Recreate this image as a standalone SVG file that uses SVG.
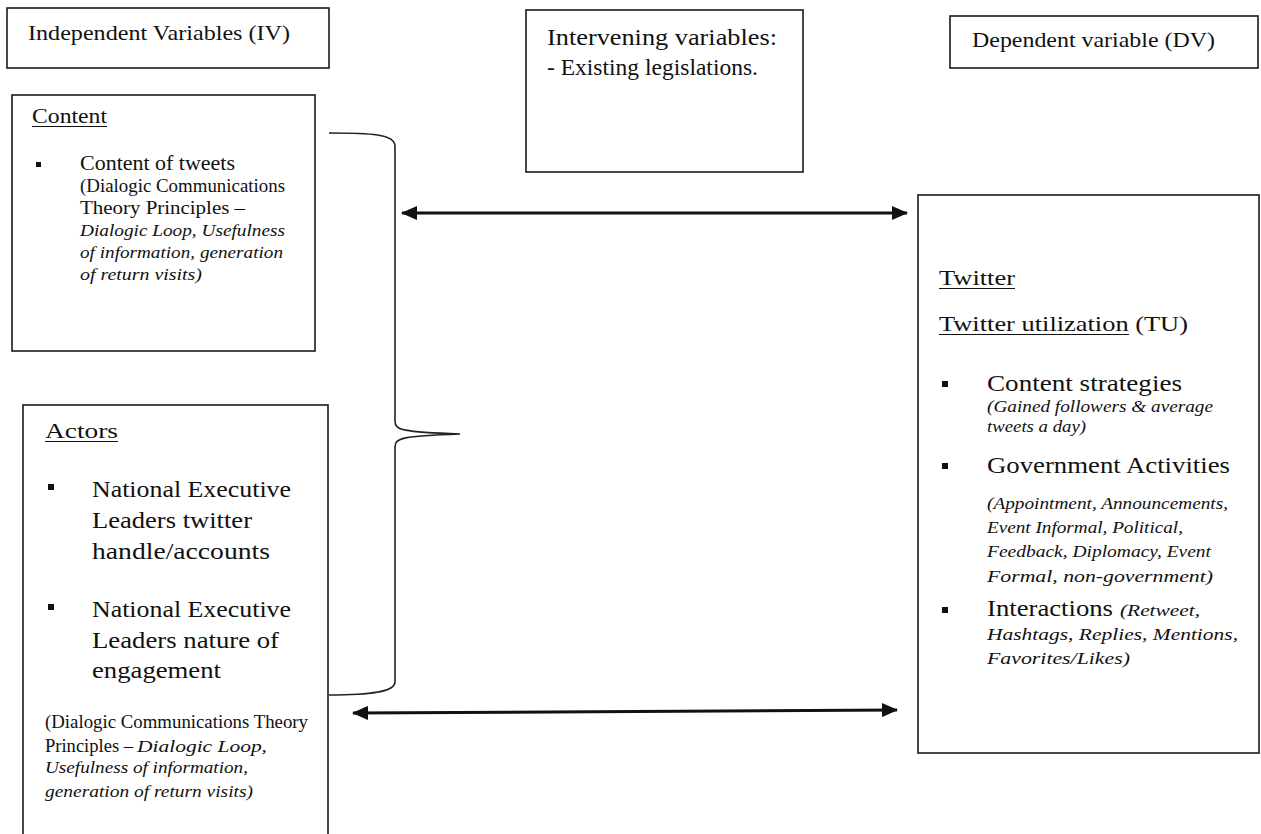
<svg xmlns="http://www.w3.org/2000/svg" width="1261" height="834" viewBox="0 0 1261 834">
<style>
.box{fill:#fff;stroke:#1a1a1a;stroke-width:1.6}
.t{font-family:"Liberation Serif","Times New Roman",serif;fill:#111}
.i{font-style:italic}
.ul{stroke:#111;stroke-width:1.2}
.blt{fill:#111}
.conn{fill:none;stroke:#111;stroke-width:3}
.brace{fill:none;stroke:#222;stroke-width:1.6}
</style>
<defs>
<marker id="ah" markerUnits="userSpaceOnUse" markerWidth="16" markerHeight="14" refX="15" refY="7" orient="auto-start-reverse">
<path d="M0,0 L16,7 L0,14 z" fill="#111"/>
</marker>
</defs>
<rect width="1261" height="834" fill="#fff"/>

<g id="iv-header">
<rect class="box" x="7" y="8" width="322" height="60"/>
<text class="t" x="28" y="40" font-size="22" textLength="262" lengthAdjust="spacingAndGlyphs">Independent Variables  (IV)</text>
</g>

<g id="intervening">
<rect class="box" x="526" y="10" width="277" height="162"/>
<text class="t" x="547" y="45" font-size="23" textLength="230" lengthAdjust="spacingAndGlyphs">Intervening variables:</text>
<text class="t" x="547" y="75" font-size="23" textLength="211" lengthAdjust="spacingAndGlyphs">- Existing  legislations.</text>
</g>

<g id="dv-header">
<rect class="box" x="950" y="16" width="308" height="52"/>
<text class="t" x="972" y="47" font-size="22" textLength="243" lengthAdjust="spacingAndGlyphs">Dependent variable  (DV)</text>
</g>

<g id="content">
<rect class="box" x="12" y="95" width="303" height="256"/>
<text class="t" x="32" y="123" font-size="21" textLength="75" lengthAdjust="spacingAndGlyphs">Content</text>
<line class="ul" x1="32" y1="126.5" x2="107" y2="126.5"/>
<rect class="blt" x="36" y="162" width="5" height="5"/>
<text class="t" x="80" y="170" font-size="20" textLength="155" lengthAdjust="spacingAndGlyphs">Content of tweets</text>
<text class="t" x="80" y="192" font-size="18" textLength="205" lengthAdjust="spacingAndGlyphs">(Dialogic Communications</text>
<text class="t" x="80" y="214" font-size="19" textLength="165" lengthAdjust="spacingAndGlyphs">Theory Principles –</text>
<text class="t i" x="80" y="236" font-size="17" textLength="205" lengthAdjust="spacingAndGlyphs">Dialogic Loop, Usefulness</text>
<text class="t i" x="80" y="258" font-size="17" textLength="203" lengthAdjust="spacingAndGlyphs">of information, generation</text>
<text class="t i" x="80" y="280" font-size="17" textLength="122" lengthAdjust="spacingAndGlyphs">of return visits)</text>
</g>

<g id="actors">
<rect class="box" x="23" y="405" width="305" height="445"/>
<text class="t" x="45" y="438" font-size="22" textLength="73" lengthAdjust="spacingAndGlyphs">Actors</text>
<line class="ul" x1="45" y1="441.5" x2="118" y2="441.5"/>
<rect class="blt" x="48" y="484" width="6" height="6"/>
<text class="t" x="92" y="497" font-size="24" textLength="199" lengthAdjust="spacingAndGlyphs">National Executive</text>
<text class="t" x="92" y="528" font-size="24" textLength="160" lengthAdjust="spacingAndGlyphs">Leaders twitter</text>
<text class="t" x="92" y="559" font-size="24" textLength="178" lengthAdjust="spacingAndGlyphs">handle/accounts</text>
<rect class="blt" x="48" y="604" width="6" height="6"/>
<text class="t" x="92" y="617" font-size="24" textLength="199" lengthAdjust="spacingAndGlyphs">National Executive</text>
<text class="t" x="92" y="648" font-size="24" textLength="187" lengthAdjust="spacingAndGlyphs">Leaders nature of</text>
<text class="t" x="92" y="678" font-size="24" textLength="129" lengthAdjust="spacingAndGlyphs">engagement</text>
<text class="t" x="45" y="728" font-size="18" textLength="263" lengthAdjust="spacingAndGlyphs">(Dialogic Communications Theory</text>
<text class="t" x="45" y="752" font-size="19" textLength="88" lengthAdjust="spacingAndGlyphs">Principles –</text>
<text class="t i" x="137" y="752" font-size="17" textLength="130" lengthAdjust="spacingAndGlyphs">Dialogic Loop,</text>
<text class="t i" x="45" y="773" font-size="17" textLength="203" lengthAdjust="spacingAndGlyphs">Usefulness of information,</text>
<text class="t i" x="45" y="797" font-size="17" textLength="208" lengthAdjust="spacingAndGlyphs">generation of return visits)</text>
</g>

<g id="twitter-utilization">
<rect class="box" x="918" y="195" width="341" height="558"/>
<text class="t" x="939" y="285" font-size="22" textLength="76" lengthAdjust="spacingAndGlyphs">Twitter</text>
<line class="ul" x1="939" y1="288.5" x2="1015" y2="288.5"/>
<text class="t" x="939" y="331" font-size="22" textLength="249" lengthAdjust="spacingAndGlyphs">Twitter  utilization (TU)</text>
<line class="ul" x1="939" y1="334.5" x2="1129" y2="334.5"/>
<rect class="blt" x="942" y="381" width="6" height="6"/>
<text class="t" x="987" y="391" font-size="23" textLength="195" lengthAdjust="spacingAndGlyphs">Content strategies</text>
<text class="t i" x="987" y="412" font-size="16" textLength="226" lengthAdjust="spacingAndGlyphs">(Gained followers &amp; average</text>
<text class="t i" x="987" y="432" font-size="16" textLength="99" lengthAdjust="spacingAndGlyphs">tweets a day)</text>
<rect class="blt" x="942" y="463" width="6" height="6"/>
<text class="t" x="987" y="473" font-size="23" textLength="243" lengthAdjust="spacingAndGlyphs">Government  Activities</text>
<text class="t i" x="987" y="509" font-size="16" textLength="241" lengthAdjust="spacingAndGlyphs">(Appointment, Announcements,</text>
<text class="t i" x="987" y="533" font-size="16" textLength="196" lengthAdjust="spacingAndGlyphs">Event Informal, Political,</text>
<text class="t i" x="987" y="557" font-size="16" textLength="224" lengthAdjust="spacingAndGlyphs">Feedback,  Diplomacy, Event</text>
<text class="t i" x="987" y="582" font-size="16" textLength="226" lengthAdjust="spacingAndGlyphs">Formal, non-government)</text>
<rect class="blt" x="942" y="607" width="6" height="6"/>
<text class="t" x="987" y="616" font-size="23" textLength="126" lengthAdjust="spacingAndGlyphs">Interactions</text>
<text class="t i" x="1120" y="616" font-size="16" textLength="80" lengthAdjust="spacingAndGlyphs">(Retweet,</text>
<text class="t i" x="987" y="640" font-size="16" textLength="251" lengthAdjust="spacingAndGlyphs">Hashtags, Replies, Mentions,</text>
<text class="t i" x="987" y="664" font-size="16" textLength="143" lengthAdjust="spacingAndGlyphs">Favorites/Likes)</text>
</g>

<g id="connectors">
<path class="brace" d="M329 133 C370 133 395 134 395 146 L395 421 C395 430 402 432 460 434 C402 436 395 438 395 447 L395 682 C395 692 370 695 329 695"/>
<path class="conn" d="M402 213 L907 213" marker-start="url(#ah)" marker-end="url(#ah)"/>
<path class="conn" d="M353 713 L897 710" marker-start="url(#ah)" marker-end="url(#ah)"/>
</g>
</svg>
